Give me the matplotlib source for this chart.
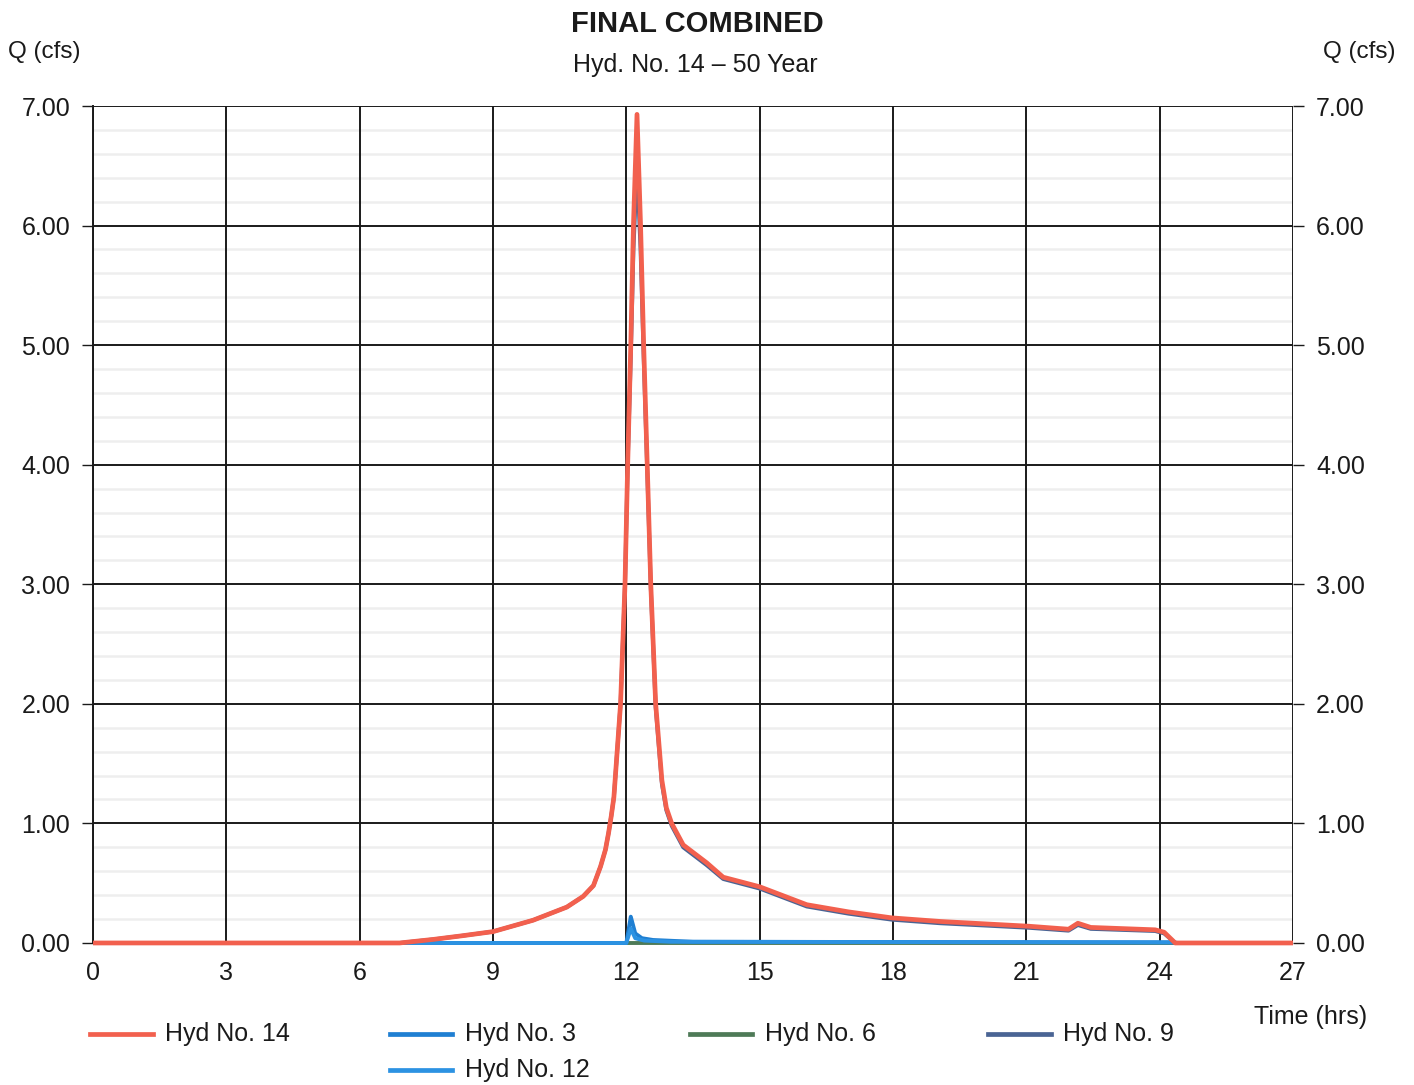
"""Plot the final combined hydrograph for the 50 year storm."""

import matplotlib

matplotlib.use("Agg")

import matplotlib.pyplot as plt
from matplotlib.lines import Line2D
from matplotlib.ticker import MultipleLocator

plt.rcParams["font.family"] = ["Liberation Sans", "DejaVu Sans"]

# Hyd No. 14 - combined outflow (hrs, cfs)
hyd14_t = [0.0, 6.9, 7.66, 8.3, 9.0, 9.9, 10.66, 11.03, 11.26, 11.42, 11.53,
           11.6, 11.66, 11.72, 11.87, 11.97, 12.03, 12.1, 12.16, 12.24, 12.32,
           12.39, 12.47, 12.55, 12.66, 12.8, 12.9, 13.02, 13.28, 13.81, 14.18,
           15.0, 16.06, 17.0, 17.97, 19.06, 21.06, 21.95, 22.16, 22.45, 23.9,
           24.1, 24.35, 27.0]
hyd14_q = [0.0, 0.0, 0.03, 0.06, 0.095, 0.19, 0.30, 0.39, 0.48, 0.64, 0.78,
           0.92, 1.06, 1.22, 2.0, 3.0, 4.0, 5.0, 6.0, 6.93, 6.0, 5.0, 4.0,
           3.0, 2.0, 1.36, 1.13, 1.0, 0.82, 0.67, 0.55, 0.47, 0.32, 0.26,
           0.21, 0.18, 0.14, 0.115, 0.165, 0.13, 0.11, 0.09, 0.0, 0.0]

# Hyd No. 9 - main contributing area
hyd9_t = hyd14_t
hyd9_q = [0.0, 0.0, 0.03, 0.06, 0.095, 0.19, 0.30, 0.39, 0.48, 0.64, 0.78,
          0.92, 1.06, 1.22, 2.0, 3.0, 4.0, 4.9, 5.8, 6.5, 5.8, 4.9, 3.95,
          2.97, 1.97, 1.33, 1.11, 0.98, 0.80, 0.65, 0.535, 0.455, 0.305,
          0.245, 0.195, 0.165, 0.127, 0.103, 0.15, 0.118, 0.10, 0.08, 0.0,
          0.0]

# Hyd No. 3 and Hyd No. 12 - small direct areas
hyd3_t = [0.0, 12.0, 12.1, 12.2, 12.35, 12.6, 13.5, 24.3, 24.4, 27.0]
hyd3_q = [0.0, 0.0, 0.22, 0.08, 0.04, 0.025, 0.01, 0.005, 0.0, 0.0]

hyd12_t = [0.0, 12.0, 12.1, 12.2, 12.4, 13.0, 24.3, 24.4, 27.0]
hyd12_q = [0.0, 0.0, 0.12, 0.04, 0.02, 0.01, 0.005, 0.0, 0.0]

# Hyd No. 6 - no flow for this storm
hyd6_t = [0.0, 27.0]
hyd6_q = [0.0, 0.0]

series = [
    ("Hyd No. 14", hyd14_t, hyd14_q, "#f2604e", 3.4, 6),
    ("Hyd No. 3", hyd3_t, hyd3_q, "#1f7fd2", 2.8, 3),
    ("Hyd No. 6", hyd6_t, hyd6_q, "#4e7a57", 2.8, 2),
    ("Hyd No. 9", hyd9_t, hyd9_q, "#4a6494", 2.8, 5),
    ("Hyd No. 12", hyd12_t, hyd12_q, "#2c92e2", 2.8, 4),
]

# legend slots (figure x of handle start, figure y)
legend_slots = [
    (0.064, 0.047),
    (0.276, 0.047),
    (0.488, 0.047),
    (0.699, 0.047),
    (0.276, 0.014),
]


def main() -> None:
    """Draw and save the hydrograph figure."""

    figure = plt.figure(figsize=(14.14, 10.85), dpi=100)
    axes = figure.add_axes([0.0658, 0.1309, 0.8486, 0.7714])

    # unclipped so the zero-flow stretches show at full width
    for label, times, flows, color, width, order in series:
        axes.plot(times, flows, color=color, linewidth=width,
                  zorder=order, solid_capstyle="butt", clip_on=False)

    axes.set_xlim(0, 27)
    axes.set_ylim(0, 7)
    axes.xaxis.set_major_locator(MultipleLocator(3))
    axes.yaxis.set_major_locator(MultipleLocator(1))
    axes.yaxis.set_minor_locator(MultipleLocator(0.2))
    axes.yaxis.set_major_formatter(lambda v, p: f"{v:.2f}")

    # faint minor rules sit beneath the black major grid
    axes.hlines(axes.yaxis.get_minorticklocs(), 0, 27, color="#eeeeee",
                linewidth=1.8, zorder=0.2)
    axes.grid(which="major", color="#1a1a1a", linewidth=1.4)
    axes.set_axisbelow(True)

    for spine in axes.spines.values():
        spine.set_visible(False)
    axes.spines["left"].set_visible(True)
    axes.spines["left"].set_color("#1a1a1a")
    axes.spines["left"].set_linewidth(1.4)

    axes.tick_params(axis="both", which="major", labelsize=18,
                     colors="#1a1a1a", length=8, width=1.0)
    axes.tick_params(axis="x", length=0, pad=13)
    axes.tick_params(axis="y", which="minor", length=0)
    axes.tick_params(axis="y", right=True, labelright=True, pad=8.5)

    figure.text(0.493, 0.978, "FINAL COMBINED", ha="center", va="center",
                fontsize=21, fontweight="bold", color="#1a1a1a")
    figure.text(0.492, 0.940, "Hyd. No. 14 \u2013 50 Year", ha="center",
                va="center", fontsize=18, color="#1a1a1a")
    figure.text(0.006, 0.952, "Q (cfs)", ha="left", va="center",
                fontsize=17.5, color="#1a1a1a")
    figure.text(0.987, 0.952, "Q (cfs)", ha="right", va="center",
                fontsize=17.5, color="#1a1a1a")
    figure.text(0.927, 0.063, "Time (hrs)", ha="center", va="center",
                fontsize=18, color="#1a1a1a")

    for (label, _, _, color, _, _), (x0, y0) in zip(series, legend_slots):
        figure.add_artist(Line2D([x0, x0 + 0.044], [y0, y0], color=color,
                                 linewidth=3.4, transform=figure.transFigure))
        figure.text(x0 + 0.053, y0, label, ha="left", va="center",
                    fontsize=18, color="#1a1a1a")

    figure.savefig("out.png", dpi=100, facecolor="white")
    plt.close(figure)


if __name__ == "__main__":
    main()
